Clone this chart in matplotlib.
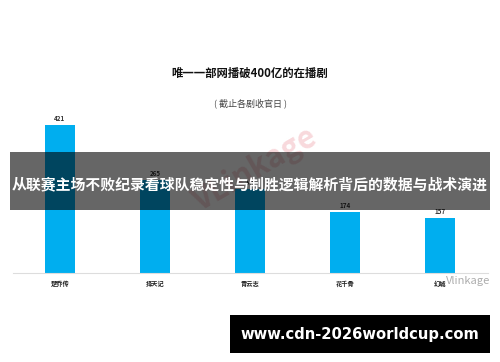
import matplotlib
matplotlib.use("Agg")
import matplotlib.pyplot as plt
from matplotlib.patches import Rectangle

plt.rcParams['font.family'] = ['Noto Sans CJK SC', 'DejaVu Sans']

# data
shows = ['楚乔传', '择天记', '青云志', '花千骨', '幻城']
views = [421, 265, 240, 174, 157]   # 青云志 is hidden by the banner, estimated
title = '唯一一部网播破400亿的在播剧'
subtitle = '( 截止各剧收官日 )'
banner = '从联赛主场不败纪录看球队稳定性与制胜逻辑解析背后的数据与战术演进'
site = 'www.cdn-2026worldcup.com'

W, H = 500, 362
fig = plt.figure(figsize=(W / 100, H / 100), dpi=100)
fig.patch.set_facecolor('white')

# axes: baseline at y=273px, tallest bar top at y=125px
ax = fig.add_axes([12.5 / W, (H - 273) / H, 475 / W, 148 / H])
x = list(range(len(shows)))
ax.bar(x, views, width=0.32, color='#00AEEF', zorder=2)
ax.set_xlim(-0.5, 4.5)
ax.set_ylim(0, max(views))
for xi, v in zip(x, views):
    ax.text(xi, v + 8, str(v), ha='center', va='bottom', fontsize=4.5,
            fontweight='bold', color='#333333', clip_on=False)
ax.set_xticks(x)
ax.set_xticklabels(shows, fontsize=4.5, fontweight='bold', color='#222222')
ax.tick_params(axis='x', length=0, pad=5)
ax.set_yticks([])
for s in ['top', 'right', 'left']:
    ax.spines[s].set_visible(False)
ax.spines['bottom'].set_color('#dddddd')
ax.spines['bottom'].set_linewidth(0.8)

fig.text(0.5, 1 - 73 / H, title, ha='center', va='center', fontsize=8.2,
         fontweight='bold', color='#111111')
fig.text(0.5, 1 - 103 / H, subtitle, ha='center', va='center', fontsize=6.5,
         color='#444444')

# faint watermarks
fig.text(255 / W, 1 - 170 / H, 'VLinkage', ha='center', va='center', fontsize=22,
         fontweight='bold', color='#e05060', alpha=0.22, rotation=30)
fig.text(468 / W, 1 - 281 / H, 'Vlinkage', ha='center', va='center', fontsize=8,
         color='#999999', alpha=0.8)

# dark semi-transparent banner with headline
fig.patches.append(Rectangle((10 / W, 1 - 210 / H), 480 / W, 58 / H,
                             transform=fig.transFigure, facecolor='black',
                             alpha=0.6, edgecolor='none', zorder=5))
fig.text(0.5, 1 - 184 / H, banner, ha='center', va='center', fontsize=10.7,
         fontweight='bold', color='white', zorder=6)

# black url box at the bottom
fig.patches.append(Rectangle((230 / W, 1 - 353 / H), 260 / W, 38 / H,
                             transform=fig.transFigure, facecolor='black',
                             edgecolor='none', zorder=5))
fig.text(360 / W, 1 - 334 / H, site, ha='center', va='center', fontsize=10.6,
         fontweight='bold', color='white', family='DejaVu Sans', zorder=6)

fig.savefig('out.png', dpi=100)
